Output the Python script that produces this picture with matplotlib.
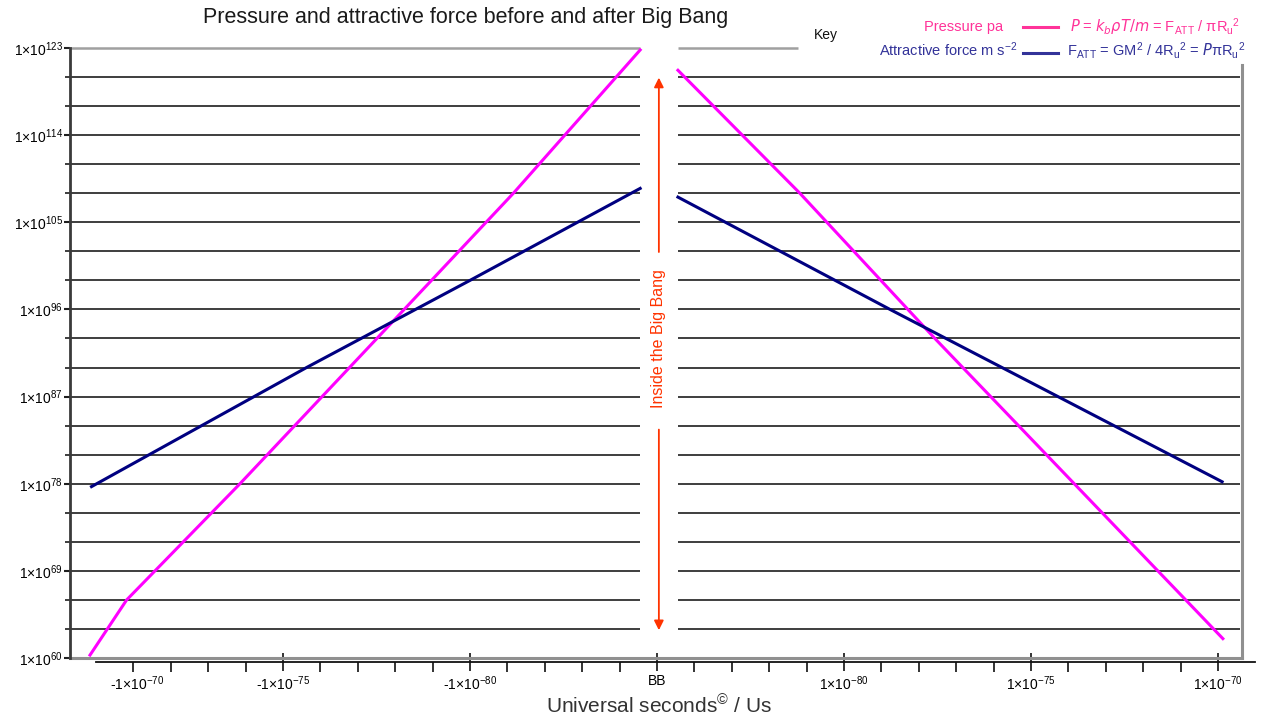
import numpy as np
import matplotlib.pyplot as plt
from matplotlib.lines import Line2D
from matplotlib.transforms import blended_transform_factory

plt.rcParams['font.family'] = ['Liberation Sans', 'DejaVu Sans']
plt.rcParams['mathtext.default'] = 'regular'

# x positions: one unit per decade, BB at 0, 1x10^-80 at 5, 1x10^-75 at 10 ...
pressure_before_x = [-15.16, -14.18, -11.15, -7.49, -3.84, -0.45]
pressure_before_exp = [60.3, 66, 78, 93, 108, 122.8]
force_before_x = [-15.12, -9.37, -5.0, -0.45]
force_before_exp = [77.7, 90, 99, 108.5]

pressure_after_x = [0.56, 3.82, 7.43, 15.13]
pressure_after_exp = [120.7, 108, 93, 62.0]
force_after_x = [0.56, 6.23, 15.11]
force_after_exp = [107.6, 96, 78.2]

xtick_pos = [-13.9, -10, -5, 0, 5, 10, 15]
xtick_labels = [r'-1×10$^{-70}$', r'-1×10$^{-75}$', r'-1×10$^{-80}$', 'BB',
                r'1×10$^{-80}$', r'1×10$^{-75}$', r'1×10$^{-70}$']
ytick_exp = [123, 114, 105, 96, 87, 78, 69, 60]
grid_exp = list(range(60, 124, 3))

PINK = '#ff00ff'
NAVY = '#000080'
ORANGE = '#ff3300'
GREY = '#a0a0a0'

W, H = 1282, 722
fig = plt.figure(figsize=(12.82, 7.22), dpi=100)
ax = fig.add_axes([70 / W, 1 - 658 / H, 1170 / W, 610 / H])

xmin, xmax = -15.695, 15.588
gap_l, gap_r = -0.45, 0.56
ax.set_xlim(xmin, xmax)
ax.set_yscale('log')
ax.set_ylim(1e60, 1e123)

# horizontal grid, broken around BB
for e in grid_exp:
    if e == 60:
        continue
    if e == 123:
        ax.hlines(10.0 ** e, xmin, gap_l, color=GREY, lw=1.8, clip_on=False)
        ax.hlines(10.0 ** e, gap_r, 3.77, color=GREY, lw=1.8, clip_on=False)
    else:
        ax.hlines(10.0 ** e, xmin - 0.14, gap_l, color='#1e1e1e', lw=1.2, clip_on=False)
        ax.hlines(10.0 ** e, gap_r, xmax, color='#1e1e1e', lw=1.2, clip_on=False)

ax.plot(pressure_before_x, 10.0 ** np.array(pressure_before_exp), color=PINK, lw=2.2)
ax.plot(pressure_after_x, 10.0 ** np.array(pressure_after_exp), color=PINK, lw=2.2)
ax.plot(force_before_x, 10.0 ** np.array(force_before_exp), color=NAVY, lw=2.2)
ax.plot(force_after_x, 10.0 ** np.array(force_after_exp), color=NAVY, lw=2.2)

# frame
for s in ['top', 'right']:
    ax.spines[s].set_visible(False)
ax.spines['left'].set_color('#3a3a3a')
ax.spines['left'].set_linewidth(2.0)
ax.spines['bottom'].set_position(('outward', 3))
ax.spines['bottom'].set_bounds(-15, 16)
ax.spines['bottom'].set_color('#111111')
ax.spines['bottom'].set_linewidth(1.3)
ax.plot([0, 1.0015], [0, 0], transform=ax.transAxes, color='#909090', lw=2.2, clip_on=False)
ax.plot([1.0015, 1.0015], [0, 0.972], transform=ax.transAxes, color='#909090', lw=2.2, clip_on=False)

# x axis ticks
ax.set_xticks(xtick_pos)
ax.set_xticklabels(xtick_labels, fontsize=10)
ax.set_xticks([i for i in range(-14, 15) if i % 5 != 0], minor=True)
ax.tick_params(axis='x', which='major', direction='inout', length=13, width=1.2, pad=2, color='#111111')
ax.tick_params(axis='x', which='minor', direction='out', length=7, width=1.2, color='#111111')
ax.xaxis.get_major_ticks()[0].tick1line.set_visible(False)

# y axis ticks
ax.set_yticks([10.0 ** e for e in ytick_exp])
ax.set_yticklabels([r'1×10$^{%d}$' % e for e in ytick_exp], fontsize=10)
ax.yaxis.set_minor_locator(plt.NullLocator())
ax.tick_params(axis='y', which='major', direction='out', length=4, width=1.5, pad=1, color='#222222')

# inside the big bang
tr = blended_transform_factory(ax.transData, ax.transAxes)
ax.annotate('', xy=(0.05, 0.956), xytext=(0.05, 0.661), xycoords=tr, textcoords=tr,
            arrowprops=dict(arrowstyle='-|>', color=ORANGE, lw=1.3, mutation_scale=14))
ax.annotate('', xy=(0.05, 0.041), xytext=(0.05, 0.379), xycoords=tr, textcoords=tr,
            arrowprops=dict(arrowstyle='-|>', color=ORANGE, lw=1.3, mutation_scale=14))
ax.text(0.05, 0.523, 'Inside the Big Bang', transform=tr, rotation=90, ha='center', va='center',
        color=ORANGE, fontsize=11.5)

# titles
fig.text(466 / W, 1 - 18 / H, 'Pressure and attractive force before and after Big Bang',
         ha='center', va='center', fontsize=15.5, color='#1a1a1a')
fig.text(659 / W, 1 - 706 / H, r'Universal seconds$^{\copyright}$ / Us',
         ha='center', va='center', fontsize=15, color='#333333')

# key
fig.text(826 / W, 1 - 35 / H, 'Key', ha='center', va='center', fontsize=10, color='#111111')
fig.text(1003 / W, 1 - 27 / H, 'Pressure pa', ha='right', va='center', fontsize=10.5, color='#ff3399')
fig.text(1017 / W, 1 - 50 / H, r'Attractive force m s$^{-2}$', ha='right', va='center',
         fontsize=10.5, color='#333399')
fig.add_artist(Line2D([1023 / W, 1058 / W], [1 - 27 / H] * 2, color='#ff3399', lw=2.2))
fig.add_artist(Line2D([1023 / W, 1058 / W], [1 - 53 / H] * 2, color='#333399', lw=2.2))
fig.text(1070 / W, 1 - 27 / H, r'$\mathit{P}$ = $\mathit{k_b\rho T/m}$ = F$_{ATT}$ / $\pi$R$_{u}$$^{2}$',
         ha='left', va='center', fontsize=10.5, color='#ff3399')
fig.text(1067 / W, 1 - 50 / H, r'F$_{ATT}$ = GM$^{2}$ / 4R$_{u}$$^{2}$ = $\mathit{P}\pi$R$_{u}$$^{2}$',
         ha='left', va='center', fontsize=10.5, color='#333399')

fig.savefig('out.png', dpi=100)
